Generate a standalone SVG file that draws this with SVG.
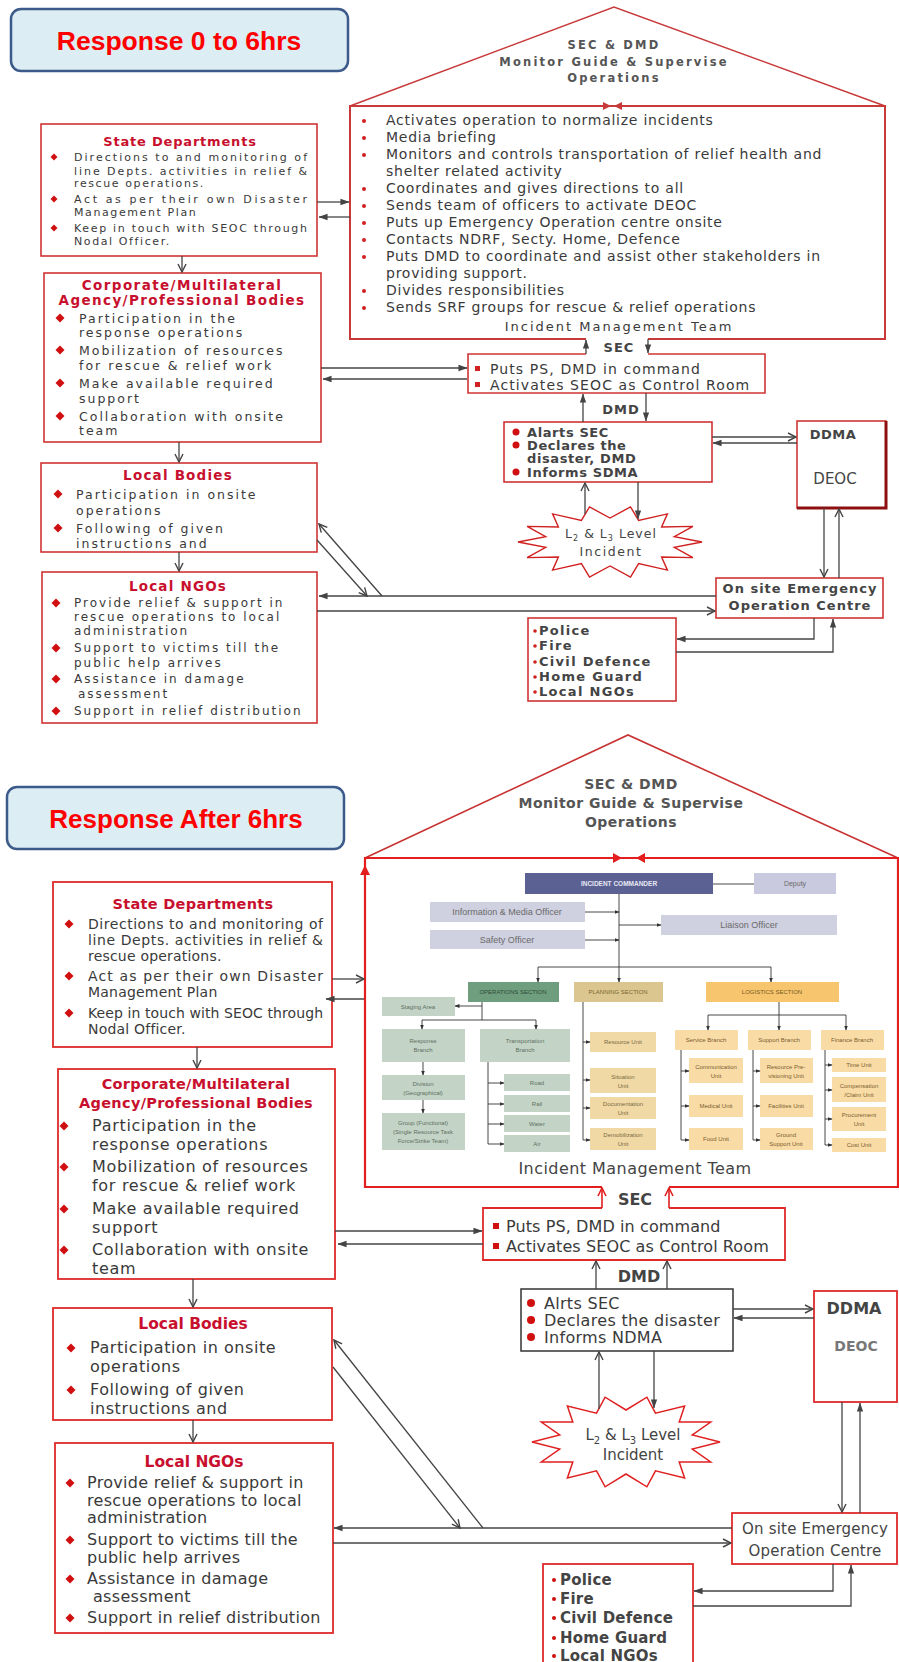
<svg xmlns="http://www.w3.org/2000/svg" xmlns:xlink="http://www.w3.org/1999/xlink" width="899" height="1662" viewBox="0 0 899 1662">
<style>
.bx{fill:#fff;stroke:#d03434;stroke-width:1.6}
.bx2{fill:#fff;stroke:#e02a2a;stroke-width:1.8}
.tb{fill:#dcedf3;stroke:#3c5a8a;stroke-width:2.5}
.tt{font-family:"Liberation Sans",Arial,sans-serif;font-weight:bold;font-size:26px;fill:#ff0000;text-anchor:middle}
.t{font-family:"DejaVu Sans",sans-serif;fill:#3a3a3a}
.h{font-family:"DejaVu Sans",sans-serif;font-weight:bold;fill:#c8102e;text-anchor:middle}
.m{text-anchor:middle}
.c{fill:none;stroke:#444;stroke-width:1.3}
.cr{fill:none;stroke:#e02020;stroke-width:1.6}
.oc{fill:none;stroke:#333;stroke-width:0.9}
.o{font-family:"Liberation Sans",Arial,sans-serif;font-size:6px;text-anchor:middle;fill:#6a6a6a}
</style>
<defs>
<marker id="af" viewBox="0 0 10 10" refX="9.5" refY="5" markerWidth="9" markerHeight="9" markerUnits="userSpaceOnUse" orient="auto"><path d="M0,1.5 L10,5 L0,8.5 Z" fill="#444"/></marker>
<marker id="ao" viewBox="0 0 10 10" refX="9" refY="5" markerWidth="10" markerHeight="10" markerUnits="userSpaceOnUse" orient="auto"><path d="M1,1 L9,5 L1,9" fill="none" stroke="#444" stroke-width="1.4"/></marker>
<marker id="ar" viewBox="0 0 10 10" refX="9" refY="5" markerWidth="10" markerHeight="10" markerUnits="userSpaceOnUse" orient="auto"><path d="M1,1 L9,5 L1,9" fill="none" stroke="#e02020" stroke-width="1.6"/></marker>
<marker id="as" viewBox="0 0 10 10" refX="9" refY="5" markerWidth="5" markerHeight="5" markerUnits="userSpaceOnUse" orient="auto"><path d="M0,1 L10,5 L0,9 Z" fill="#333"/></marker>
<path id="d1" d="M0,-3.5 L3.5,0 L0,3.5 L-3.5,0 Z" fill="#d01010"/>
<path id="d2" d="M0,-4.5 L4.5,0 L0,4.5 L-4.5,0 Z" fill="#d01010"/>
</defs>
<rect width="899" height="1662" fill="#fff"/>

<!-- ============ TOP SECTION ============ -->
<g id="title-top">
<rect class="tb" x="11" y="9" width="337" height="62" rx="10"/>
<text class="tt" x="179" y="50" style="font-size:26.5px">Response 0 to 6hrs</text>
</g>

<g id="house-top">
<path d="M350,106 L614,7 L885,106" fill="none" stroke="#c83a3a" stroke-width="1.5"/>
<path d="M586,339 H350 V106 H885 V339 H648" fill="none" stroke="#c83a3a" stroke-width="2"/>
<path d="M603,102 L611,106 L603,110 Z M622,102 L614,106 L622,110 Z" fill="#c83a3a"/>
<g class="t m" style="font-size:11.5px;font-weight:bold;letter-spacing:2.2px;fill:#555">
<text x="614" y="49">SEC &amp; DMD</text>
<text x="614" y="66">Monitor Guide &amp; Supervise</text>
<text x="614" y="82">Operations</text>
</g>
<g fill="#d02020">
<circle cx="364" cy="121" r="2"/><circle cx="364" cy="138" r="2"/><circle cx="364" cy="155" r="2"/>
<circle cx="364" cy="189" r="2"/><circle cx="364" cy="206" r="2"/><circle cx="364" cy="223" r="2"/>
<circle cx="364" cy="240" r="2"/><circle cx="364" cy="257" r="2"/><circle cx="364" cy="291" r="2"/>
<circle cx="364" cy="308" r="2"/>
</g>
<g class="t" style="font-size:14px;letter-spacing:0.75px">
<text x="386" y="125">Activates operation to normalize incidents</text>
<text x="386" y="142">Media briefing</text>
<text x="386" y="159">Monitors and controls transportation of relief health and</text>
<text x="386" y="176">shelter related activity</text>
<text x="386" y="193">Coordinates and gives directions to all</text>
<text x="386" y="210">Sends team of officers to activate DEOC</text>
<text x="386" y="227">Puts up Emergency Operation centre onsite</text>
<text x="386" y="244">Contacts NDRF, Secty. Home, Defence</text>
<text x="386" y="261">Puts DMD to coordinate and assist other stakeholders in</text>
<text x="386" y="278">providing support.</text>
<text x="386" y="295">Divides responsibilities</text>
<text x="386" y="312">Sends SRF groups for rescue &amp; relief operations</text>
</g>
<text class="t m" x="619" y="331" style="font-size:13px;letter-spacing:2px">Incident Management Team</text>
</g>

<g id="state-top">
<rect class="bx" x="41" y="124" width="276" height="132"/>
<text class="h" x="180" y="146" style="font-size:13px;letter-spacing:0.8px">State Departments</text>
<use href="#d1" x="54" y="157"/><use href="#d1" x="54" y="199"/><use href="#d1" x="54" y="228"/>
<g class="t" style="font-size:11px;letter-spacing:1.6px">
<text x="74" y="161" textLength="233" lengthAdjust="spacing" letter-spacing="0">Directions to and monitoring of</text>
<text x="74" y="175" textLength="233" lengthAdjust="spacing" letter-spacing="0">line Depts. activities in relief &amp;</text>
<text x="74" y="187">rescue operations.</text>
<text x="74" y="203" textLength="233" lengthAdjust="spacing" letter-spacing="0">Act as per their own Disaster</text>
<text x="74" y="216">Management Plan</text>
<text x="74" y="232" textLength="233" lengthAdjust="spacing" letter-spacing="0">Keep in touch with SEOC through</text>
<text x="74" y="245">Nodal Officer.</text>
</g>
</g>

<g id="corporate-top">
<rect class="bx" x="44" y="273" width="277" height="169"/>
<g class="h" style="font-size:13.5px;letter-spacing:1.4px">
<text x="182" y="290">Corporate/Multilateral</text>
<text x="182" y="305">Agency/Professional Bodies</text>
</g>
<use href="#d2" x="60" y="318"/><use href="#d2" x="60" y="350"/><use href="#d2" x="60" y="383"/><use href="#d2" x="60" y="416"/>
<g class="t" style="font-size:12.5px;letter-spacing:2px">
<text x="79" y="323">Participation in the</text>
<text x="79" y="337">response operations</text>
<text x="79" y="355">Mobilization of resources</text>
<text x="79" y="370">for rescue &amp; relief work</text>
<text x="79" y="388">Make available required</text>
<text x="79" y="403">support</text>
<text x="79" y="421">Collaboration with onsite</text>
<text x="79" y="435">team</text>
</g>
</g>

<g id="localbodies-top">
<rect class="bx" x="41" y="463" width="276" height="89"/>
<text class="h" x="178" y="480" style="font-size:13.5px;letter-spacing:1.2px">Local Bodies</text>
<use href="#d2" x="58" y="494"/><use href="#d2" x="58" y="528"/>
<g class="t" style="font-size:12.5px;letter-spacing:2px">
<text x="76" y="499">Participation in onsite</text>
<text x="76" y="515">operations</text>
<text x="76" y="533">Following of given</text>
<text x="76" y="548">instructions and</text>
</g>
</g>

<g id="localngos-top">
<rect class="bx" x="42" y="572" width="275" height="151"/>
<text class="h" x="178" y="591" style="font-size:13.5px;letter-spacing:1.2px">Local NGOs</text>
<use href="#d2" x="56" y="603"/><use href="#d2" x="56" y="648"/><use href="#d2" x="56" y="679"/><use href="#d2" x="56" y="711"/>
<g class="t" style="font-size:12px;letter-spacing:2px">
<text x="74" y="607">Provide relief &amp; support in</text>
<text x="74" y="621">rescue operations to local</text>
<text x="74" y="635">administration</text>
<text x="74" y="652">Support to victims till the</text>
<text x="74" y="667">public help arrives</text>
<text x="74" y="683">Assistance in damage</text>
<text x="78" y="698">assessment</text>
<text x="74" y="715">Support in relief distribution</text>
</g>
</g>

<g id="sec-top">
<path d="M586,354 H468 V393 H765 V354 H648" fill="#fff" stroke="#d03434" stroke-width="1.6"/>
<rect x="475" y="366" width="5" height="5" fill="#d02020"/><rect x="475" y="382" width="5" height="5" fill="#d02020"/>
<g class="t" style="font-size:14px;letter-spacing:1.1px">
<text x="490" y="374">Puts PS, DMD in command</text>
<text x="490" y="390">Activates SEOC as Control Room</text>
</g>
<text class="t m" x="619" y="352" style="font-size:13px;font-weight:bold;letter-spacing:1px;fill:#444">SEC</text>
<text class="t m" x="621" y="414" style="font-size:13px;font-weight:bold;letter-spacing:1px;fill:#444">DMD</text>
</g>

<g id="alerts-top">
<rect class="bx" x="504" y="422" width="208" height="60"/>
<circle cx="516" cy="432" r="3.5" fill="#d01010"/><circle cx="516" cy="445" r="3.5" fill="#d01010"/><circle cx="516" cy="472" r="3.5" fill="#d01010"/>
<g class="t" style="font-size:13px;font-weight:bold;letter-spacing:0.6px;fill:#444">
<text x="527" y="437">Alarts SEC</text>
<text x="527" y="450">Declares the</text>
<text x="527" y="463">disaster, DMD</text>
<text x="527" y="477">Informs SDMA</text>
</g>
</g>

<g id="ddma-top">
<rect x="797" y="421" width="89" height="87" fill="#fff" stroke="#cc2a2a" stroke-width="1.5"/>
<path d="M886,421 V508 H797" fill="none" stroke="#8e0f0f" stroke-width="3"/>
<text class="t m" x="833" y="439" style="font-size:13px;font-weight:bold;letter-spacing:0.5px;fill:#444">DDMA</text>
<text class="t m" x="835" y="484" style="font-size:15px;fill:#444">DEOC</text>
</g>

<g id="incident-top">
<polygon points="702,542 674.3,547.3 692.9,557.6 661.6,557 667.4,570.1 638.6,563.6 630.5,577.1 610,566 589.5,577.1 581.4,563.6 552.6,570.1 558.4,557 527.1,557.6 545.7,547.3 518,542 545.7,536.7 527.1,526.4 558.4,527 552.6,513.9 581.4,520.4 589.5,506.9 610,518 630.5,506.9 638.6,520.4 667.4,513.9 661.6,527 692.9,526.4 674.3,536.7" fill="#fff" stroke="#d02020" stroke-width="1.4"/>
<g class="t m" style="font-size:12.5px;letter-spacing:1px;fill:#444">
<text x="611" y="538">L<tspan font-size="8" dy="3">2</tspan><tspan dy="-3"> &amp; L</tspan><tspan font-size="8" dy="3">3</tspan><tspan dy="-3"> Level</tspan></text>
<text x="611" y="556" style="letter-spacing:1.6px">Incident</text>
</g>
</g>

<g id="onsite-top">
<rect class="bx" x="716" y="578" width="167" height="40"/>
<g class="t m" style="font-size:13px;letter-spacing:1px;fill:#444;font-weight:bold">
<text x="800" y="593">On site Emergency</text>
<text x="800" y="610">Operation Centre</text>
</g>
</g>

<g id="police-top">
<rect class="bx" x="528" y="618" width="148" height="83"/>
<g fill="#d02020"><circle cx="535" cy="631" r="1.8"/><circle cx="535" cy="646" r="1.8"/><circle cx="535" cy="662" r="1.8"/><circle cx="535" cy="677" r="1.8"/><circle cx="535" cy="692" r="1.8"/></g>
<g class="t" style="font-size:13px;font-weight:bold;letter-spacing:1.3px;fill:#444">
<text x="539" y="635">Police</text>
<text x="539" y="650">Fire</text>
<text x="539" y="666">Civil Defence</text>
<text x="539" y="681">Home Guard</text>
<text x="539" y="696">Local NGOs</text>
</g>
</g>

<g id="connectors-top">
<line class="c" x1="317" y1="202" x2="349" y2="202" marker-end="url(#af)"/>
<line class="c" x1="350" y1="217" x2="319" y2="217" marker-end="url(#af)"/>
<line class="c" x1="182" y1="256" x2="182" y2="272" marker-end="url(#ao)"/>
<line class="c" x1="179" y1="442" x2="179" y2="462" marker-end="url(#ao)"/>
<line class="c" x1="179" y1="552" x2="179" y2="571" marker-end="url(#ao)"/>
<line class="c" x1="321" y1="368" x2="467" y2="368" marker-end="url(#af)"/>
<line class="c" x1="467" y1="379" x2="323" y2="379" marker-end="url(#af)"/>
<line class="c" x1="586" y1="354" x2="586" y2="340" marker-end="url(#af)"/>
<line class="c" x1="648" y1="339" x2="648" y2="353" marker-end="url(#af)"/>
<line class="c" x1="583" y1="422" x2="583" y2="394" marker-end="url(#af)"/>
<line class="c" x1="646" y1="393" x2="646" y2="421" marker-end="url(#af)"/>
<line class="c" x1="712" y1="437" x2="796" y2="437" marker-end="url(#ao)"/>
<line class="c" x1="797" y1="443" x2="713" y2="443" marker-end="url(#af)"/>
<line class="c" x1="585" y1="514" x2="585" y2="483" marker-end="url(#ao)"/>
<line class="c" x1="638" y1="482" x2="638" y2="519" marker-end="url(#af)"/>
<line class="c" x1="824" y1="508" x2="824" y2="577" marker-end="url(#ao)"/>
<line class="c" x1="839" y1="578" x2="839" y2="509" marker-end="url(#ao)"/>
<line class="c" x1="716" y1="596" x2="319" y2="596" marker-end="url(#af)"/>
<line class="c" x1="317" y1="611" x2="715" y2="611" marker-end="url(#ao)"/>
<line class="c" x1="382" y1="596" x2="319" y2="524" marker-end="url(#ao)"/>
<line class="c" x1="317" y1="540" x2="367" y2="596" marker-end="url(#ao)"/>
<polyline class="c" points="814,618 814,639 677,639" marker-end="url(#af)"/>
<polyline class="c" points="676,652 833,652 833,619" marker-end="url(#af)"/>
</g>

<!-- ============ BOTTOM SECTION ============ -->
<g id="title-bottom">
<rect class="tb" x="7" y="787" width="337" height="62" rx="10"/>
<text class="tt" x="176" y="828">Response After 6hrs</text>
</g>

<g id="house-bottom">
<path d="M365,858 L628,735 L898,858" fill="none" stroke="#c83232" stroke-width="1.6"/>
<path d="M602,1187 H365 V858 H898 V1187 H669" fill="none" stroke="#e41e1e" stroke-width="2.2"/>
<path d="M613,853 L622,858 L613,863 Z M645,853 L636,858 L645,863 Z M360,875 L365,865 L370,875 Z" fill="#e41e1e"/>
<g class="t m" style="font-size:14px;font-weight:bold;letter-spacing:0.5px;fill:#555">
<text x="631" y="789">SEC &amp; DMD</text>
<text x="631" y="808">Monitor Guide &amp; Supervise</text>
<text x="631" y="827">Operations</text>
</g>
<text class="t m" x="635" y="1174" style="font-size:16px;letter-spacing:0.45px;fill:#444">Incident Management Team</text>
</g>

<g id="org-chart">
<rect x="525" y="873" width="188" height="21" fill="#5c6194"/>
<text class="o" x="619" y="886" style="fill:#e8e8f4;font-size:6.5px;font-weight:bold">INCIDENT COMMANDER</text>
<rect x="754" y="873" width="82" height="21" fill="#c9cadf"/>
<text class="o" x="795" y="886" style="font-size:7px">Deputy</text>
<rect x="430" y="902" width="155" height="20" fill="#cfd0e0"/>
<text class="o" x="507" y="915" style="font-size:9px">Information &amp; Media Officer</text>
<rect x="430" y="930" width="155" height="19" fill="#cfd0e0"/>
<text class="o" x="507" y="943" style="font-size:9px">Safety Officer</text>
<rect x="661" y="915" width="176" height="20" fill="#cfd0e0"/>
<text class="o" x="749" y="928" style="font-size:9px">Liaison Officer</text>

<rect x="468" y="982" width="91" height="20" fill="#6e9e7e"/>
<text class="o" x="513" y="994" style="fill:#2f4a38">OPERATIONS SECTION</text>
<rect x="574" y="982" width="89" height="20" fill="#dcc68f"/>
<text class="o" x="618" y="994" style="fill:#7a6430">PLANNING SECTION</text>
<rect x="706" y="982" width="133" height="20" fill="#f6c56e"/>
<text class="o" x="772" y="994" style="fill:#7a5a20">LOGISTICS SECTION</text>

<g fill="#c3d4c6">
<rect x="382" y="997" width="73" height="19"/>
<rect x="382" y="1029" width="83" height="33"/>
<rect x="480" y="1029" width="90" height="33"/>
<rect x="382" y="1075" width="83" height="25"/>
<rect x="382" y="1113" width="83" height="37"/>
<rect x="504" y="1074" width="66" height="17"/>
<rect x="504" y="1095" width="66" height="17"/>
<rect x="504" y="1115" width="66" height="17"/>
<rect x="504" y="1135" width="66" height="17"/>
</g>
<g class="o" style="fill:#5f6f62">
<text x="418" y="1009">Staging Area</text>
<text x="423" y="1043">Response</text><text x="423" y="1052">Branch</text>
<text x="525" y="1043">Transportation</text><text x="525" y="1052">Branch</text>
<text x="423" y="1086">Division</text><text x="423" y="1095">(Geographical)</text>
<text x="423" y="1125">Group (Functional)</text><text x="423" y="1134">(Single Resource Task</text><text x="423" y="1143">Force/Strike Team)</text>
<text x="537" y="1085">Road</text><text x="537" y="1106">Rail</text><text x="537" y="1126">Water</text><text x="537" y="1146">Air</text>
</g>
<g fill="#f0d9a4">
<rect x="590" y="1032" width="66" height="20"/>
<rect x="590" y="1068" width="66" height="25"/>
<rect x="590" y="1097" width="66" height="22"/>
<rect x="590" y="1128" width="66" height="22"/>
</g>
<g class="o" style="fill:#7a6a44">
<text x="623" y="1044">Resource Unit</text>
<text x="623" y="1079">Situation</text><text x="623" y="1088">Unit</text>
<text x="623" y="1106">Documentation</text><text x="623" y="1115">Unit</text>
<text x="623" y="1137">Demobilization</text><text x="623" y="1146">Unit</text>
</g>
<g fill="#f9dba6">
<rect x="675" y="1030" width="63" height="20"/>
<rect x="748" y="1030" width="63" height="20"/>
<rect x="821" y="1030" width="63" height="20"/>
<rect x="689" y="1058" width="54" height="25"/>
<rect x="689" y="1095" width="54" height="22"/>
<rect x="689" y="1128" width="54" height="22"/>
<rect x="760" y="1058" width="53" height="25"/>
<rect x="760" y="1095" width="53" height="22"/>
<rect x="760" y="1128" width="53" height="22"/>
<rect x="832" y="1058" width="54" height="14"/>
<rect x="832" y="1077" width="54" height="25"/>
<rect x="832" y="1107" width="54" height="24"/>
<rect x="832" y="1138" width="54" height="14"/>
</g>
<g class="o" style="fill:#7a6030">
<text x="706" y="1042">Service Branch</text>
<text x="779" y="1042">Support Branch</text>
<text x="852" y="1042">Finance Branch</text>
<text x="716" y="1069">Communication</text><text x="716" y="1078">Unit</text>
<text x="716" y="1108">Medical Unit</text>
<text x="716" y="1141">Food Unit</text>
<text x="786" y="1069">Resource Pre-</text><text x="786" y="1078">visioning Unit</text>
<text x="786" y="1108">Facilities Unit</text>
<text x="786" y="1137">Ground</text><text x="786" y="1146">Support Unit</text>
<text x="859" y="1067">Time Unit</text>
<text x="859" y="1088">Compensation</text><text x="859" y="1097">/Claim Unit</text>
<text x="859" y="1117">Procurement</text><text x="859" y="1126">Unit</text>
<text x="859" y="1147">Cost Unit</text>
</g>
<g class="oc">
<line x1="713" y1="884" x2="754" y2="884"/>
<line x1="619" y1="894" x2="619" y2="967"/>
<line x1="585" y1="912" x2="619" y2="912" marker-end="url(#as)"/>
<line x1="585" y1="940" x2="619" y2="940" marker-end="url(#as)"/>
<line x1="619" y1="925" x2="661" y2="925" marker-end="url(#as)"/>
<line x1="538" y1="967" x2="771" y2="967"/>
<line x1="538" y1="967" x2="538" y2="982" marker-end="url(#as)"/>
<line x1="619" y1="967" x2="619" y2="982" marker-end="url(#as)"/>
<line x1="771" y1="967" x2="771" y2="982" marker-end="url(#as)"/>
<line x1="482" y1="1002" x2="482" y2="1020"/>
<line x1="482" y1="1006" x2="455" y2="1006" marker-end="url(#as)"/>
<line x1="422" y1="1020" x2="536" y2="1020"/>
<line x1="422" y1="1020" x2="422" y2="1029" marker-end="url(#as)"/>
<line x1="536" y1="1020" x2="536" y2="1029" marker-end="url(#as)"/>
<line x1="423" y1="1062" x2="423" y2="1075" marker-end="url(#as)"/>
<line x1="423" y1="1100" x2="423" y2="1113" marker-end="url(#as)"/>
<line x1="488" y1="1062" x2="488" y2="1144"/>
<line x1="488" y1="1083" x2="504" y2="1083" marker-end="url(#as)"/>
<line x1="488" y1="1104" x2="504" y2="1104" marker-end="url(#as)"/>
<line x1="488" y1="1124" x2="504" y2="1124" marker-end="url(#as)"/>
<line x1="488" y1="1144" x2="504" y2="1144" marker-end="url(#as)"/>
<line x1="583" y1="1002" x2="583" y2="1140"/>
<line x1="583" y1="1042" x2="590" y2="1042" marker-end="url(#as)"/>
<line x1="583" y1="1080" x2="590" y2="1080" marker-end="url(#as)"/>
<line x1="583" y1="1108" x2="590" y2="1108" marker-end="url(#as)"/>
<line x1="583" y1="1140" x2="590" y2="1140" marker-end="url(#as)"/>
<line x1="779" y1="1002" x2="779" y2="1015"/>
<line x1="708" y1="1015" x2="846" y2="1015"/>
<line x1="708" y1="1015" x2="708" y2="1030" marker-end="url(#as)"/>
<line x1="779" y1="1015" x2="779" y2="1030" marker-end="url(#as)"/>
<line x1="846" y1="1015" x2="846" y2="1030" marker-end="url(#as)"/>
<line x1="681" y1="1050" x2="681" y2="1140"/>
<line x1="681" y1="1071" x2="689" y2="1071" marker-end="url(#as)"/>
<line x1="681" y1="1106" x2="689" y2="1106" marker-end="url(#as)"/>
<line x1="681" y1="1140" x2="689" y2="1140" marker-end="url(#as)"/>
<line x1="753" y1="1050" x2="753" y2="1140"/>
<line x1="753" y1="1071" x2="760" y2="1071" marker-end="url(#as)"/>
<line x1="753" y1="1106" x2="760" y2="1106" marker-end="url(#as)"/>
<line x1="753" y1="1140" x2="760" y2="1140" marker-end="url(#as)"/>
<line x1="825" y1="1050" x2="825" y2="1145"/>
<line x1="825" y1="1065" x2="832" y2="1065" marker-end="url(#as)"/>
<line x1="825" y1="1090" x2="832" y2="1090" marker-end="url(#as)"/>
<line x1="825" y1="1119" x2="832" y2="1119" marker-end="url(#as)"/>
<line x1="825" y1="1145" x2="832" y2="1145" marker-end="url(#as)"/>
</g>
</g>

<g id="state-bottom">
<rect class="bx2" x="53" y="882" width="279" height="165"/>
<text class="h" x="193" y="909" style="font-size:14.5px;letter-spacing:0.3px">State Departments</text>
<use href="#d2" x="69" y="924"/><use href="#d2" x="69" y="976"/><use href="#d2" x="69" y="1013"/>
<g class="t" style="font-size:14px;letter-spacing:0.2px">
<text x="88" y="929" textLength="235" lengthAdjust="spacing" letter-spacing="0">Directions to and monitoring of</text>
<text x="88" y="945" textLength="235" lengthAdjust="spacing" letter-spacing="0">line Depts. activities in relief &amp;</text>
<text x="88" y="961">rescue operations.</text>
<text x="88" y="981" textLength="235" lengthAdjust="spacing" letter-spacing="0">Act as per their own Disaster</text>
<text x="88" y="997">Management Plan</text>
<text x="88" y="1018" textLength="235" lengthAdjust="spacing" letter-spacing="0">Keep in touch with SEOC through</text>
<text x="88" y="1034">Nodal Officer.</text>
</g>
</g>

<g id="corporate-bottom">
<rect class="bx2" x="58" y="1069" width="277" height="210"/>
<g class="h" style="font-size:14.5px;letter-spacing:0.3px">
<text x="196" y="1089">Corporate/Multilateral</text>
<text x="196" y="1108">Agency/Professional Bodies</text>
</g>
<use href="#d2" x="64" y="1126"/><use href="#d2" x="64" y="1167"/><use href="#d2" x="64" y="1209"/><use href="#d2" x="64" y="1250"/>
<g class="t" style="font-size:16px;letter-spacing:0.7px">
<text x="92" y="1131">Participation in the</text>
<text x="92" y="1150">response operations</text>
<text x="92" y="1172">Mobilization of resources</text>
<text x="92" y="1191">for rescue &amp; relief work</text>
<text x="92" y="1214">Make available required</text>
<text x="92" y="1233">support</text>
<text x="92" y="1255">Collaboration with onsite</text>
<text x="92" y="1274">team</text>
</g>
</g>

<g id="localbodies-bottom">
<rect class="bx2" x="53" y="1308" width="279" height="112"/>
<text class="h" x="193" y="1329" style="font-size:15.5px">Local Bodies</text>
<use href="#d2" x="71" y="1348"/><use href="#d2" x="71" y="1390"/>
<g class="t" style="font-size:16px;letter-spacing:0.55px">
<text x="90" y="1353">Participation in onsite</text>
<text x="90" y="1372">operations</text>
<text x="90" y="1395">Following of given</text>
<text x="90" y="1414">instructions and</text>
</g>
</g>

<g id="localngos-bottom">
<rect class="bx2" x="55" y="1443" width="278" height="190"/>
<text class="h" x="194" y="1467" style="font-size:15.5px">Local NGOs</text>
<use href="#d2" x="70" y="1483"/><use href="#d2" x="70" y="1540"/><use href="#d2" x="70" y="1579"/><use href="#d2" x="70" y="1618"/>
<g class="t" style="font-size:16px;letter-spacing:0.3px">
<text x="87" y="1488">Provide relief &amp; support in</text>
<text x="87" y="1506">rescue operations to local</text>
<text x="87" y="1523">administration</text>
<text x="87" y="1545">Support to victims till the</text>
<text x="87" y="1563">public help arrives</text>
<text x="87" y="1584">Assistance in damage</text>
<text x="93" y="1602">assessment</text>
<text x="87" y="1623">Support in relief distribution</text>
</g>
</g>

<g id="sec-bottom">
<path d="M602,1208 H483 V1260 H785 V1208 H669" fill="#fff" stroke="#e02a2a" stroke-width="1.8"/>
<rect x="493" y="1223" width="6" height="6" fill="#d01010"/><rect x="493" y="1243" width="6" height="6" fill="#d01010"/>
<g class="t" style="font-size:16px;letter-spacing:0.1px">
<text x="506" y="1232">Puts PS, DMD in command</text>
<text x="506" y="1252">Activates SEOC as Control Room</text>
</g>
<text class="t m" x="635" y="1205" style="font-size:16px;font-weight:bold;fill:#444">SEC</text>
<text class="t m" x="639" y="1282" style="font-size:16px;font-weight:bold;fill:#444">DMD</text>
</g>

<g id="alerts-bottom">
<rect x="521" y="1289" width="212" height="62" fill="#fff" stroke="#333" stroke-width="1.5"/>
<circle cx="531" cy="1303" r="4" fill="#d01010"/><circle cx="531" cy="1320" r="4" fill="#d01010"/><circle cx="531" cy="1337" r="4" fill="#d01010"/>
<g class="t" style="font-size:16px;letter-spacing:0.3px">
<text x="544" y="1309">Alrts SEC</text>
<text x="544" y="1326">Declares the disaster</text>
<text x="544" y="1343">Informs NDMA</text>
</g>
</g>

<g id="ddma-bottom">
<rect class="bx2" x="814" y="1291" width="83" height="111"/>
<text class="t m" x="854" y="1314" style="font-size:16px;font-weight:bold;fill:#444">DDMA</text>
<text class="t m" x="856" y="1351" style="font-size:14px;font-weight:bold;fill:#777">DEOC</text>
</g>

<g id="incident-bottom">
<polygon points="720,1442 692.3,1449.1 710.7,1462 679.2,1462 684.6,1478 655.5,1470.8 646.9,1486.8 626,1474 605.1,1486.8 596.5,1470.8 567.4,1478 572.8,1462 541.3,1462 559.7,1449.1 532,1442 559.7,1434.9 541.3,1422 572.8,1422 567.4,1406 596.5,1413.2 605.1,1397.2 626,1410 646.9,1397.2 655.5,1413.2 684.6,1406 679.2,1422 710.7,1422 692.3,1434.9" fill="#fff" stroke="#e02020" stroke-width="1.5"/>
<g class="t m" style="font-size:15px;fill:#444">
<text x="633" y="1440">L<tspan font-size="10" dy="4">2</tspan><tspan dy="-4"> &amp; L</tspan><tspan font-size="10" dy="4">3</tspan><tspan dy="-4"> Level</tspan></text>
<text x="633" y="1460">Incident</text>
</g>
</g>

<g id="onsite-bottom">
<rect class="bx2" x="732" y="1513" width="165" height="51"/>
<g class="t m" style="font-size:15px;letter-spacing:0.2px;fill:#444">
<text x="815" y="1534">On site Emergency</text>
<text x="815" y="1556">Operation Centre</text>
</g>
</g>

<g id="police-bottom">
<rect class="bx2" x="543" y="1564" width="150" height="110"/>
<g fill="#d01010"><circle cx="554" cy="1580" r="2"/><circle cx="554" cy="1599" r="2"/><circle cx="554" cy="1618" r="2"/><circle cx="554" cy="1638" r="2"/><circle cx="554" cy="1656" r="2"/></g>
<g class="t" style="font-size:15px;font-weight:bold;letter-spacing:0.2px;fill:#444">
<text x="560" y="1585">Police</text>
<text x="560" y="1604">Fire</text>
<text x="560" y="1623">Civil Defence</text>
<text x="560" y="1643">Home Guard</text>
<text x="560" y="1661">Local NGOs</text>
</g>
</g>

<g id="connectors-bottom">
<line class="c" x1="332" y1="979" x2="364" y2="979" marker-end="url(#ao)"/>
<line class="c" x1="364" y1="999" x2="326" y2="999" marker-end="url(#af)"/>
<line class="c" x1="197" y1="1047" x2="197" y2="1068" marker-end="url(#ao)"/>
<line class="c" x1="193" y1="1279" x2="193" y2="1307" marker-end="url(#ao)"/>
<line class="c" x1="193" y1="1420" x2="193" y2="1442" marker-end="url(#ao)"/>
<line class="c" x1="335" y1="1231" x2="482" y2="1231" marker-end="url(#af)"/>
<line class="c" x1="483" y1="1244" x2="338" y2="1244" marker-end="url(#af)"/>
<line class="cr" x1="602" y1="1208" x2="602" y2="1188" marker-end="url(#ar)"/>
<line class="cr" x1="669" y1="1208" x2="669" y2="1188" marker-end="url(#ar)"/>
<line class="c" x1="596" y1="1289" x2="596" y2="1261" marker-end="url(#ao)"/>
<line class="c" x1="667" y1="1289" x2="667" y2="1261" marker-end="url(#ao)"/>
<line class="c" x1="733" y1="1309" x2="813" y2="1309" marker-end="url(#ao)"/>
<line class="c" x1="814" y1="1318" x2="734" y2="1318" marker-end="url(#af)"/>
<line class="c" x1="599" y1="1409" x2="599" y2="1352" marker-end="url(#ao)"/>
<line class="c" x1="654" y1="1351" x2="654" y2="1408" marker-end="url(#af)"/>
<line class="c" x1="842" y1="1402" x2="842" y2="1512" marker-end="url(#ao)"/>
<line class="c" x1="860" y1="1513" x2="860" y2="1403" marker-end="url(#af)"/>
<line class="c" x1="732" y1="1528" x2="334" y2="1528" marker-end="url(#af)"/>
<line class="c" x1="333" y1="1543" x2="731" y2="1543" marker-end="url(#ao)"/>
<line class="c" x1="483" y1="1528" x2="334" y2="1340" marker-end="url(#ao)"/>
<line class="c" x1="333" y1="1367" x2="460" y2="1528" marker-end="url(#ao)"/>
<polyline class="c" points="833,1564 833,1591 694,1591" marker-end="url(#af)"/>
<polyline class="c" points="693,1606 851,1606 851,1565" marker-end="url(#af)"/>
</g>
</svg>
